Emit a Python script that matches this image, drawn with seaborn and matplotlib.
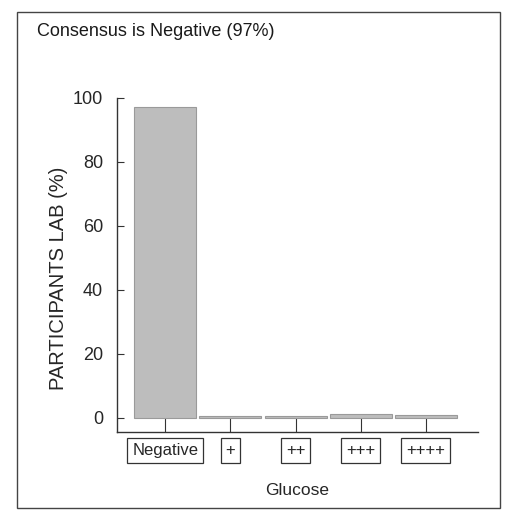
import matplotlib.pyplot as plt
import matplotlib.patches as mpatches
import seaborn as sns
import pandas as pd

# values
categories = ["Negative", "+", "++", "+++", "++++"]
percent = [97, 0.7, 0.6, 1.2, 1.0]

df = pd.DataFrame({"glucose": categories, "pct": percent})

sns.set_style("ticks")
plt.rcParams["font.family"] = ["Liberation Sans", "DejaVu Sans"]

fig = plt.figure(figsize=(5.13, 5.15), dpi=100)
ax = fig.add_axes([0.228, 0.161, 0.704, 0.649])

sns.barplot(data=df, x="glucose", y="pct", color="#bdbdbd", width=0.95,
            edgecolor="#9a9a9a", linewidth=0.8, saturation=1, ax=ax)

ax.set_xlim(-0.74, 4.8)
ax.set_ylim(-4.4, 100)
ax.set_yticks([0, 20, 40, 60, 80, 100])
ax.tick_params(axis="y", direction="in", length=5, labelsize=13, pad=10, color="#333333")
ax.tick_params(axis="x", direction="in", length=10, labelsize=12, pad=8, color="#333333")
for lbl in ax.get_xticklabels():
    lbl.set_bbox(dict(facecolor="white", edgecolor="#333333", boxstyle="square,pad=0.3", linewidth=0.9))

sns.despine(ax=ax)
ax.spines["left"].set_bounds(-4.4, 100)
for s in ["left", "bottom"]:
    ax.spines[s].set_color("#333333")
    ax.spines[s].set_linewidth(1.0)

ax.set_xlabel("Glucose", fontsize=12.5, labelpad=18)
ax.set_ylabel("PARTICIPANTS LAB (%)", fontsize=14.5, labelpad=8)
ax.yaxis.set_label_coords(-0.135, 0.46)

fig.text(37 / 513, 1 - 32 / 515, "Consensus is Negative (97%)", fontsize=13,
         va="center", ha="left", color="#1a1a1a")

# panel frame from the scan
fig.patches.append(mpatches.Rectangle((17 / 513, 1 - 508 / 515), (500 - 17) / 513, (508 - 12) / 515,
                                      transform=fig.transFigure, fill=False,
                                      edgecolor="#444444", linewidth=1.0))

fig.savefig("out.png", dpi=100)
